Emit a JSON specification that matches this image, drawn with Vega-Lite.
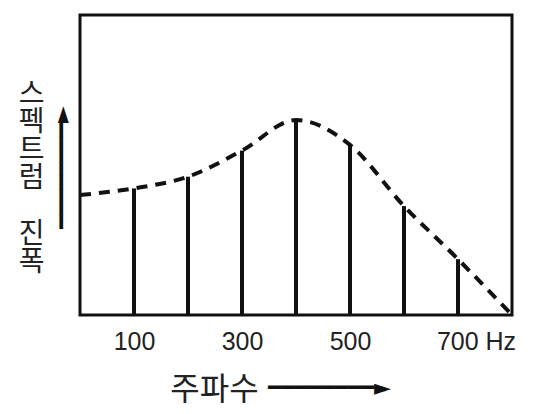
{
  "$schema": "https://vega.github.io/schema/vega-lite/v6.json",
  "width": 432,
  "height": 300,
  "autosize": {"type": "none"},
  "padding": {"left": 80, "top": 15, "right": 34, "bottom": 99},
  "background": "white",
  "config": {
    "view": {"stroke": "#111", "strokeWidth": 3},
    "axis": {"grid": false, "domain": false, "ticks": false, "tickSize": 0}
  },
  "datasets": {
    "bars": [
      {"freq": 100, "amp": 42.2},
      {"freq": 200, "amp": 46.1},
      {"freq": 300, "amp": 54.8},
      {"freq": 400, "amp": 65.0},
      {"freq": 500, "amp": 56.7},
      {"freq": 600, "amp": 36.3},
      {"freq": 700, "amp": 18.6}
    ],
    "envelope": [
      {"freq": 0, "amp": 40.0},
      {"freq": 100, "amp": 42.2},
      {"freq": 200, "amp": 46.1},
      {"freq": 300, "amp": 54.8},
      {"freq": 400, "amp": 65.0},
      {"freq": 500, "amp": 56.7},
      {"freq": 600, "amp": 36.3},
      {"freq": 700, "amp": 18.6},
      {"freq": 800, "amp": 0}
    ]
  },
  "layer": [
    {
      "data": {"name": "bars"},
      "mark": {"type": "rule", "strokeWidth": 4, "color": "#111"},
      "encoding": {
        "x": {
          "field": "freq", "type": "quantitative",
          "scale": {"domain": [0, 800], "nice": false},
          "axis": {
            "orient": "bottom",
            "values": [100, 300, 500, 700],
            "labelExpr": "datum.value == 700 ? '700 Hz' : datum.label",
            "labelOffset": {"condition": {"test": "datum.value == 700", "value": 18}, "value": 0},
            "labelFont": "Liberation Sans",
            "labelFontSize": 25,
            "labelColor": "#222",
            "labelPadding": 26,
            "labelBaseline": "middle",
            "labelFlush": false,
            "labelOverlap": false,
            "labelBound": false,
            "title": "주파수",
            "titleFont": "Noto Sans CJK KR",
            "titleFontSize": 32,
            "titleFontWeight": "normal",
            "titleColor": "#222",
            "titleX": 134,
            "titleY": 74,
            "titleAlign": "center",
            "titleBaseline": "middle"
          }
        },
        "y": {
          "field": "amp", "type": "quantitative",
          "scale": {"domain": [0, 100], "nice": false},
          "axis": {
            "orient": "left",
            "labels": false,
            "title": ["스", "펙", "트", "럼", "\u200b", "진", "폭"],
            "titleAngle": 0,
            "titleX": -49,
            "titleY": 79,
            "titleAlign": "center",
            "titleBaseline": "middle",
            "titleFont": "Noto Sans CJK KR",
            "titleFontSize": 28,
            "titleLineHeight": 28,
            "titleFontWeight": "normal",
            "titleColor": "#222"
          }
        },
        "y2": {"datum": 0}
      }
    },
    {
      "data": {"name": "envelope"},
      "mark": {"type": "line", "interpolate": "monotone", "strokeDash": [11, 8], "strokeWidth": 4, "color": "#111"},
      "encoding": {
        "x": {
          "field": "freq", "type": "quantitative",
          "scale": {"domain": [0, 800], "nice": false},
          "axis": {
            "orient": "bottom",
            "labels": false,
            "title": "━━━━━━━━►",
            "titleFont": "DejaVu Sans",
            "titleFontSize": 22,
            "titleFontWeight": "normal",
            "titleColor": "#111",
            "titleX": 249,
            "titleY": 72,
            "titleAlign": "center",
            "titleBaseline": "middle"
          }
        },
        "y": {
          "field": "amp", "type": "quantitative",
          "scale": {"domain": [0, 100], "nice": false},
          "axis": {
            "orient": "left",
            "labels": false,
            "title": "━━━━━━━━►",
            "titleAngle": 270,
            "titleFont": "DejaVu Sans",
            "titleFontSize": 22,
            "titleFontWeight": "normal",
            "titleColor": "#111",
            "titleX": -19,
            "titleY": 152,
            "titleAlign": "center",
            "titleBaseline": "middle"
          }
        }
      }
    }
  ],
  "resolve": {"scale": {"x": "independent", "y": "independent"}}
}
